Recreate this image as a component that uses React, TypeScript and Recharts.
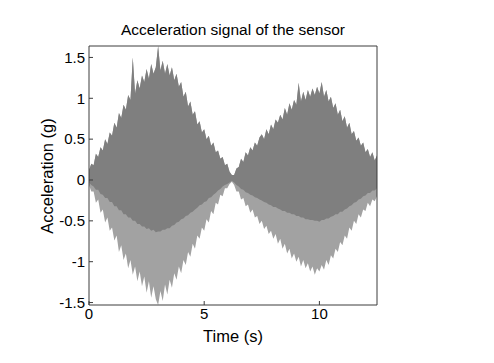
import { ComposedChart, Area, XAxis, YAxis } from "recharts"

// sample times (s), 0.1 s apart
const TIME = [
  0.0, 0.1, 0.2, 0.3, 0.4, 0.5, 0.6, 0.7, 0.8, 0.9,
  1.0, 1.1, 1.2, 1.3, 1.4, 1.5, 1.6, 1.7, 1.8, 1.9,
  2.0, 2.1, 2.2, 2.3, 2.4, 2.5, 2.6, 2.7, 2.8, 2.9,
  3.0, 3.1, 3.2, 3.3, 3.4, 3.5, 3.6, 3.7, 3.8, 3.9,
  4.0, 4.1, 4.2, 4.3, 4.4, 4.5, 4.6, 4.7, 4.8, 4.9,
  5.0, 5.1, 5.2, 5.3, 5.4, 5.5, 5.6, 5.7, 5.8, 5.9,
  6.0, 6.1, 6.2, 6.3, 6.4, 6.5, 6.6, 6.7, 6.8, 6.9,
  7.0, 7.1, 7.2, 7.3, 7.4, 7.5, 7.6, 7.7, 7.8, 7.9,
  8.0, 8.1, 8.2, 8.3, 8.4, 8.5, 8.6, 8.7, 8.8, 8.9,
  9.0, 9.1, 9.2, 9.3, 9.4, 9.5, 9.6, 9.7, 9.8, 9.9,
  10.0, 10.1, 10.2, 10.3, 10.4, 10.5, 10.6, 10.7, 10.8, 10.9,
  11.0, 11.1, 11.2, 11.3, 11.4, 11.5, 11.6, 11.7, 11.8, 11.9,
  12.0, 12.1, 12.2, 12.3, 12.4, 12.5,
]

// positive peaks (g)
const PEAK_HIGH = [
  0.12, 0.20, 0.18, 0.32, 0.28, 0.40, 0.36, 0.50, 0.44, 0.58,
  0.54, 0.70, 0.64, 0.82, 0.76, 0.92, 0.86, 1.04, 0.98, 1.50,
  1.06, 1.22, 1.12, 1.28, 1.20, 1.36, 1.24, 1.42, 1.30, 1.38,
  1.64, 1.34, 1.46, 1.30, 1.42, 1.28, 1.38, 1.22, 1.30, 1.14,
  1.20, 1.02, 1.08, 0.90, 0.96, 0.80, 0.84, 0.68, 0.72, 0.58,
  0.62, 0.50, 0.54, 0.42, 0.46, 0.34, 0.36, 0.26, 0.28, 0.18,
  0.20, 0.10, 0.06, 0.06, 0.14, 0.16, 0.26, 0.22, 0.34, 0.30,
  0.40, 0.36, 0.46, 0.42, 0.52, 0.56, 0.50, 0.62, 0.56, 0.68,
  0.62, 0.74, 0.70, 0.80, 0.74, 0.88, 0.80, 0.94, 0.86, 0.98,
  0.92, 1.19, 0.96, 1.08, 0.98, 1.10, 1.02, 1.12, 1.04, 1.14,
  1.06, 1.20, 1.02, 1.10, 0.96, 1.02, 0.88, 0.94, 0.80, 0.86,
  0.72, 0.78, 0.64, 0.70, 0.56, 0.60, 0.48, 0.52, 0.42, 0.46,
  0.34, 0.38, 0.28, 0.34, 0.24, 0.30,
]

// negative peaks (g)
const PEAK_LOW = [
  -0.06, -0.14, -0.14, -0.28, -0.24, -0.40, -0.36, -0.52, -0.46, -0.62,
  -0.58, -0.74, -0.68, -0.88, -0.80, -0.98, -0.90, -1.08, -0.98, -1.16,
  -1.06, -1.24, -1.12, -1.30, -1.18, -1.38, -1.24, -1.44, -1.30, -1.46,
  -1.53, -1.36, -1.48, -1.28, -1.40, -1.22, -1.32, -1.14, -1.22, -1.06,
  -1.14, -0.98, -1.04, -0.88, -0.94, -0.78, -0.84, -0.68, -0.72, -0.58,
  -0.62, -0.48, -0.52, -0.38, -0.42, -0.28, -0.30, -0.18, -0.20, -0.10,
  -0.10, -0.05, -0.02, -0.06, -0.14, -0.14, -0.24, -0.22, -0.32, -0.30,
  -0.40, -0.36, -0.46, -0.44, -0.54, -0.50, -0.60, -0.56, -0.66, -0.62,
  -0.72, -0.66, -0.78, -0.72, -0.84, -0.78, -0.90, -0.84, -0.96, -0.90,
  -1.00, -0.94, -1.06, -0.98, -1.08, -1.02, -1.12, -1.06, -1.16, -1.08,
  -1.12, -1.04, -1.10, -0.98, -1.04, -0.92, -0.96, -0.84, -0.88, -0.76,
  -0.80, -0.68, -0.72, -0.58, -0.62, -0.50, -0.54, -0.42, -0.46, -0.36,
  -0.38, -0.28, -0.32, -0.24, -0.26, -0.20,
]

// lower edge of the dense core (g)
const CORE_LOW = [
  -0.03, -0.06, -0.08, -0.12, -0.12, -0.17, -0.18, -0.22, -0.22, -0.27,
  -0.27, -0.32, -0.32, -0.37, -0.37, -0.42, -0.42, -0.46, -0.46, -0.50,
  -0.50, -0.54, -0.54, -0.57, -0.57, -0.60, -0.59, -0.62, -0.61, -0.64,
  -0.63, -0.63, -0.61, -0.61, -0.59, -0.59, -0.56, -0.55, -0.52, -0.51,
  -0.48, -0.47, -0.44, -0.43, -0.40, -0.39, -0.36, -0.34, -0.31, -0.30,
  -0.27, -0.26, -0.22, -0.21, -0.18, -0.16, -0.13, -0.11, -0.08, -0.06,
  -0.05, -0.03, -0.01, -0.03, -0.06, -0.08, -0.11, -0.12, -0.15, -0.16,
  -0.18, -0.19, -0.21, -0.22, -0.24, -0.25, -0.27, -0.28, -0.30, -0.31,
  -0.33, -0.33, -0.35, -0.36, -0.38, -0.38, -0.40, -0.40, -0.42, -0.42,
  -0.44, -0.44, -0.46, -0.46, -0.48, -0.48, -0.49, -0.49, -0.50, -0.50,
  -0.51, -0.49, -0.49, -0.47, -0.47, -0.45, -0.44, -0.42, -0.42, -0.39,
  -0.39, -0.36, -0.35, -0.32, -0.31, -0.28, -0.27, -0.24, -0.23, -0.20,
  -0.19, -0.16, -0.16, -0.13, -0.13, -0.10,
]

const X_TICKS = [0, 5, 10]
const Y_TICKS = [-1.5, -1, -0.5, 0, 0.5, 1, 1.5]

const data = TIME.map((t, i) => ({
  t,
  outer: [PEAK_LOW[i], PEAK_HIGH[i]],
  core: [CORE_LOW[i], PEAK_HIGH[i]],
}))

const FONT = "'Liberation Sans', Arial, sans-serif"
const AXIS = "#3c3c3c"
const tickStyle = { fill: "#000", fontSize: 15, fontFamily: FONT }

export default function App() {
  return (
    <div style={{ position: "absolute", left: 0, top: 0, width: 494, height: 363, background: "#fff", fontFamily: FONT }}>
      <ComposedChart width={494} height={363} data={data} margin={{ top: 45, right: 116, bottom: 28, left: 29 }}>
        <XAxis xAxisId="b" dataKey="t" type="number" domain={[0, 12.5]} ticks={X_TICKS} allowDataOverflow
          stroke={AXIS} tick={tickStyle} tickSize={-4} tickMargin={7} height={30} />
        <XAxis xAxisId="top" orientation="top" dataKey="t" type="number" domain={[0, 12.5]} ticks={X_TICKS} allowDataOverflow
          stroke={AXIS} tick={false} tickSize={-4} height={1} />
        <YAxis yAxisId="l" type="number" domain={[-1.53, 1.64]} ticks={Y_TICKS} allowDataOverflow
          stroke={AXIS} tick={tickStyle} tickSize={-4} tickMargin={8} width={60} />
        <YAxis yAxisId="r" orientation="right" type="number" domain={[-1.53, 1.64]} ticks={Y_TICKS} allowDataOverflow
          stroke={AXIS} tick={false} tickSize={-4} width={1} />
        <Area xAxisId="b" yAxisId="l" type="linear" dataKey="outer" stroke="none" fill="#a2a2a2" fillOpacity={1} isAnimationActive={false} />
        <Area xAxisId="b" yAxisId="l" type="linear" dataKey="core" stroke="none" fill="#7f7f7f" fillOpacity={1} isAnimationActive={false} />
      </ComposedChart>
      <div style={{ position: "absolute", left: 0, width: 466, top: 21, textAlign: "center", fontSize: 15.5, color: "#000" }}>
        Acceleration signal of the sensor
      </div>
      <div style={{ position: "absolute", left: 0, width: 466, top: 327, textAlign: "center", fontSize: 16.5, color: "#000" }}>
        Time (s)
      </div>
      <div style={{ position: "absolute", left: 47, top: 176, transform: "translate(-50%, -50%) rotate(-90deg)", whiteSpace: "nowrap", fontSize: 16.5, color: "#000" }}>
        Acceleration (g)
      </div>
    </div>
  )
}
